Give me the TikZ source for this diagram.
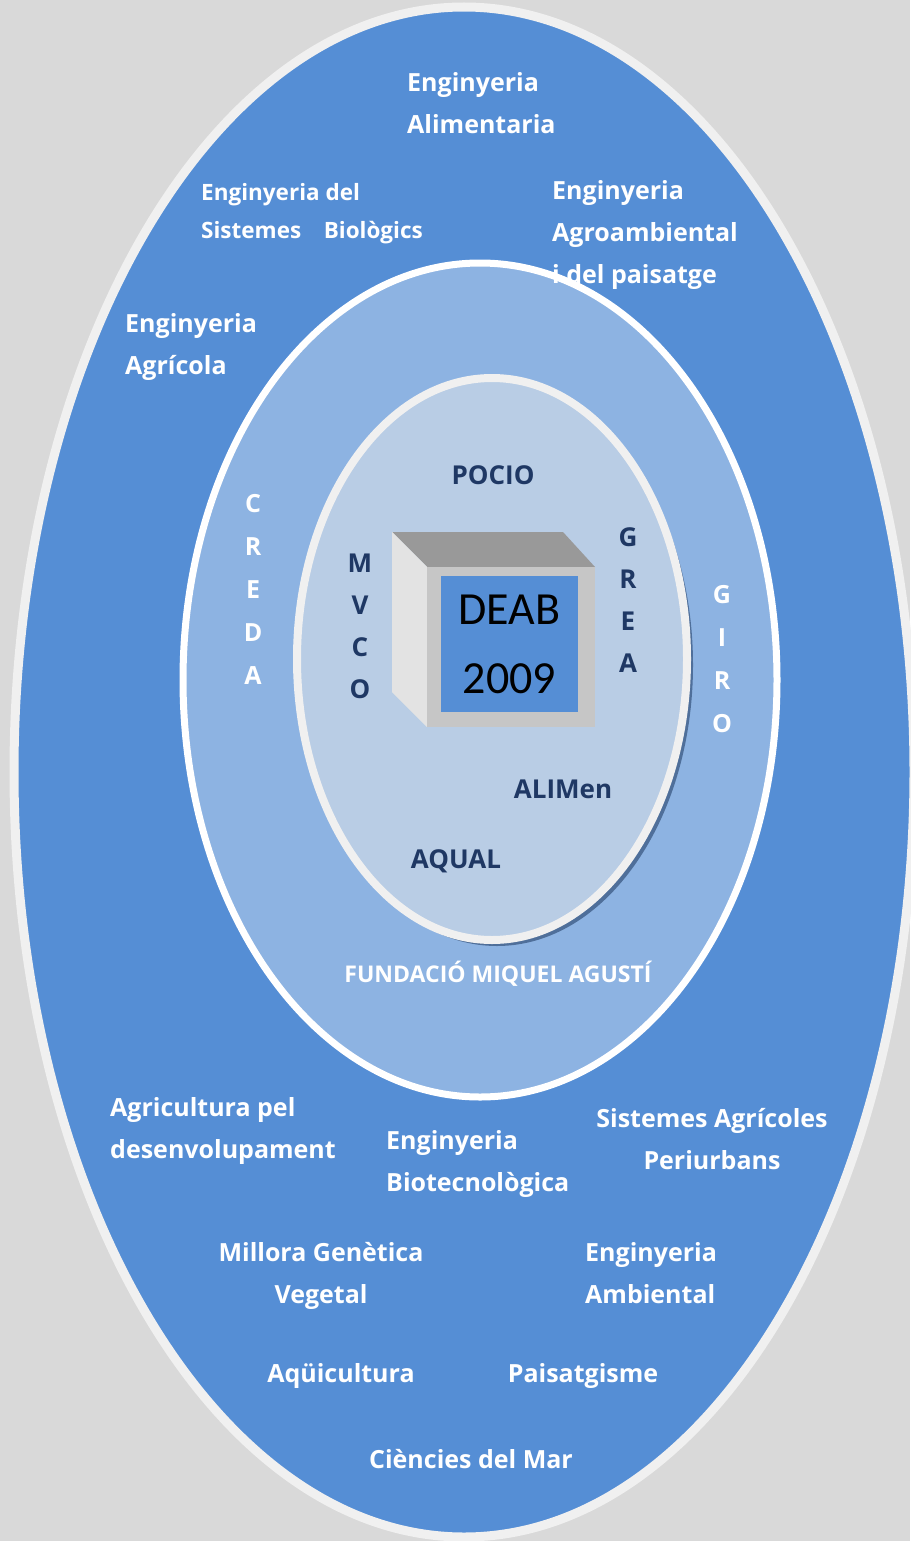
\documentclass[tikz,border=0pt]{standalone}
\usepackage{fontspec}
\setmainfont{Open Sans}
\newfontfamily\cubefont{Carlito}
\usepackage{xcolor}
\usepackage{tikz}

\definecolor{bggray}{HTML}{D9D9D9}
\definecolor{ringout}{HTML}{558ED5}
\definecolor{ringmid}{HTML}{8DB3E2}
\definecolor{ringin}{HTML}{B9CDE5}
\definecolor{edgegray}{HTML}{F0F0F0}
\definecolor{navy}{HTML}{1F3864}
\definecolor{shadowblue}{HTML}{4F6F9A}

\begin{document}
\begin{tikzpicture}[x=1pt, y=-1pt,
  lbl/.style={text=white, inner sep=0pt, font=\bfseries\fontsize{25}{42}\selectfont},
  lblsm/.style={lbl, font=\bfseries\fontsize{22.5}{38}\selectfont},
  inlbl/.style={text=navy, inner sep=0pt, font=\bfseries\fontsize{26}{42}\selectfont},
  lw/.style={anchor=north west, align=left},
  lc/.style={anchor=north, align=center}]
\fill[bggray] (0,0) rectangle (910,1541);
\useasboundingbox (0,0) rectangle (910,1541);

% the three rings
\filldraw[fill=ringout, draw=edgegray, line width=9pt] (464,772) ellipse [x radius=450pt, y radius=765pt];
\filldraw[fill=ringmid, draw=white, line width=7pt] (480,680) ellipse [x radius=297pt, y radius=417pt];
\fill[shadowblue] (497,665) ellipse [x radius=196pt, y radius=281pt];
\filldraw[fill=ringin, draw=edgegray, line width=8pt] (492,659) ellipse [x radius=195pt, y radius=281pt];

% cube
\fill[gray!80] (392,532) -- (563,532) -- (595,567) -- (427,567) -- cycle;
\fill[gray!22] (392,532) -- (427,567) -- (427,727) -- (392,692) -- cycle;
\fill[gray!45] (427,567) rectangle (595,727);
\node[fill=ringout, minimum width=137pt, minimum height=136pt, align=center,
      font=\cubefont\fontsize{46}{69}\selectfont] (deab) at (509.5,644) {DEAB\\2009};

% outer ring
\node[lbl, lw] (alim) at (407,72) {Enginyeria\\Alimentaria};
\node[lblsm, lw] (sisbio) at (201,183) {Enginyeria del\\Sistemes\quad Biològics};
\node[lbl, lw] (agroamb) at (552,180) {Enginyeria\\Agroambiental\\i del paisatge};
\node[lbl, lw] (agricola) at (125,313) {Enginyeria\\Agrícola};
\node[lbl, lw] (agridev) at (110,1097) {Agricultura pel\\desenvolupament};
\node[lbl, lw] (biotec) at (386,1130) {Enginyeria\\Biotecnològica};
\node[lbl, lc] (periurb) at (712,1108) {Sistemes Agrícoles\\Periurbans};
\node[lbl, lc] (millora) at (321,1242) {Millora Genètica\\Vegetal};
\node[lbl, lw] (ambiental) at (585,1242) {Enginyeria\\Ambiental};
\node[lbl, lc] (aqui) at (341,1363) {Aqüicultura};
\node[lbl, lc] (paisat) at (583,1363) {Paisatgisme};
\node[lbl, lc] (mar) at (471,1449) {Ciències del Mar};

% middle ring
\node[lbl, lc, font=\bfseries\fontsize{25}{43}\selectfont] (creda) at (253,494) {C\\R\\E\\D\\A};
\node[lbl, lc, font=\bfseries\fontsize{25}{43}\selectfont] (giro) at (722,585) {G\\I\\R\\O};
\node[lbl, lc, font=\bfseries\fontsize{23}{30}\selectfont] (fundacio) at (498,961) {FUNDACIÓ MIQUEL AGUSTÍ};

% inner ring
\node[inlbl, lc] (pocio) at (493,465) {POCIO};
\node[inlbl, lc] (mvco) at (360,554) {M\\V\\C\\O};
\node[inlbl, lc] (grea) at (628,527) {G\\R\\E\\A};
\node[inlbl, lc] (alimen) at (563,780) {ALIMen};
\node[inlbl, lc] (aqual) at (456,849) {AQUAL};
\end{tikzpicture}
\end{document}
